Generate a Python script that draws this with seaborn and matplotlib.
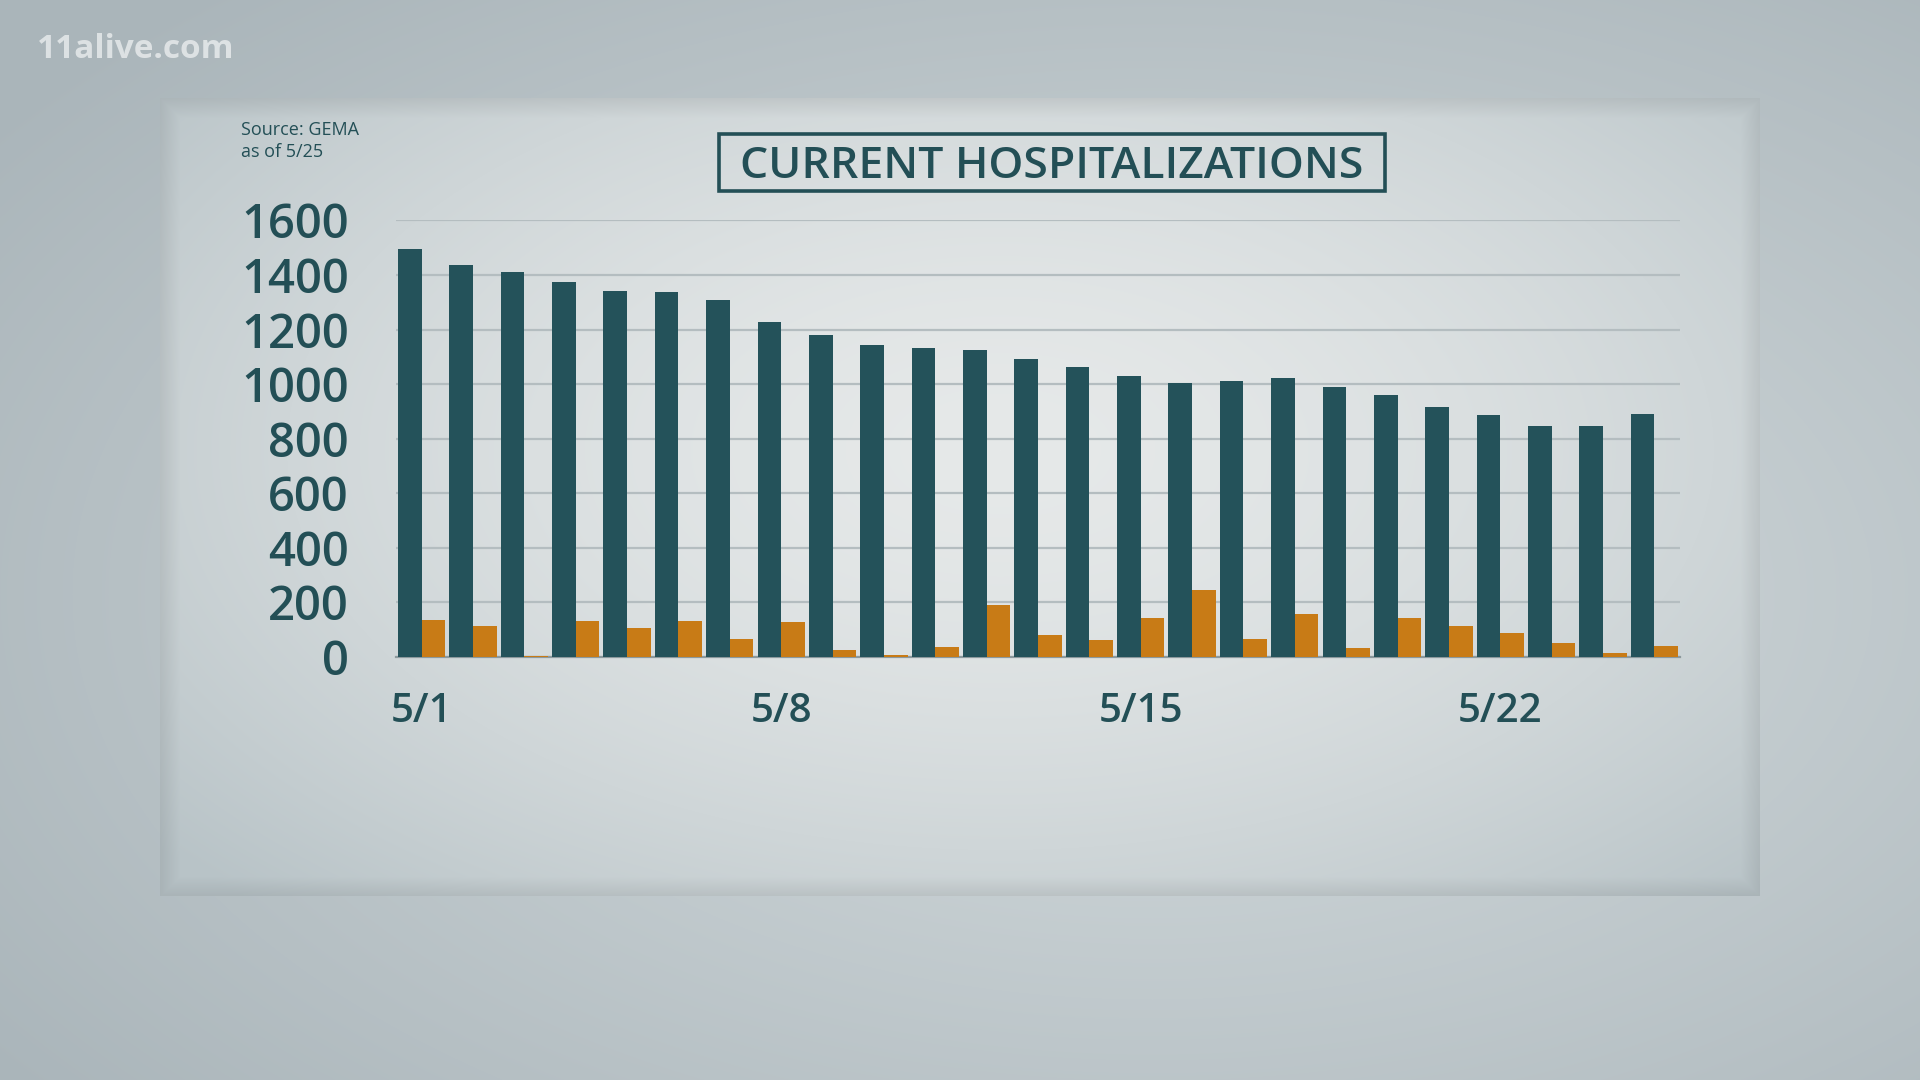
import numpy as np
import pandas as pd
import matplotlib
matplotlib.use("Agg")
import matplotlib.pyplot as plt
import seaborn as sns
from matplotlib.patches import Rectangle

# data (May 1 - May 25)
days = [f"5/{d}" for d in range(1, 26)]
hospitalized = [1497, 1438, 1411, 1376, 1341, 1337, 1309, 1228, 1179, 1144, 1132, 1125, 1091,
                1062, 1030, 1005, 1013, 1024, 988, 960, 918, 887, 847, 847, 891]
new_admits = [136, 114, 5, 131, 105, 131, 67, 128, 25, 6, 36, 191, 80, 64, 144, 246, 67, 156,
              33, 143, 115, 87, 52, 16, 41]
y_ticks = [0, 200, 400, 600, 800, 1000, 1200, 1400, 1600]
x_labels = ["5/1", "5/8", "5/15", "5/22"]

TEAL = "#24525a"
ORANGE = "#c87b16"
TEXT = "#234f56"

sns.set_theme(style="white")
plt.rcParams['font.family'] = ['Open Sans', 'DejaVu Sans']

W, H = 1920, 1080
fig = plt.figure(figsize=(W / 100, H / 100), dpi=100)

# background: outer studio wall + inset panel
yy, xx = np.mgrid[0:H, 0:W]
r = np.sqrt(((xx - W * 0.6) / W) ** 2 + ((yy - H * 0.55) / H) ** 2)
t = np.clip(r / 0.75, 0, 1)[..., None]
outer = np.array([214, 221, 223]) * (1 - t) + np.array([170, 181, 186]) * t
px0, px1, py0, py1 = 160, 1760, 98, 896
inside = (xx >= px0) & (xx < px1) & (yy >= py0) & (yy < py1)
rp = np.sqrt(((xx - 1000) / 1000.0) ** 2 + ((yy - 450) / 560.0) ** 2)
tp = np.clip(rp / 1.1, 0, 1)[..., None] ** 1.6
panel = np.array([230, 233, 233]) * (1 - tp) + np.array([184, 195, 199]) * tp
# inner shadow along the panel border
d = np.minimum.reduce([xx - px0, px1 - xx, yy - py0, py1 - yy]).astype(float)
shade = np.clip(1 - d / 20.0, 0, 1)[..., None] * 0.08
panel = panel * (1 - shade)
img = np.where(inside[..., None], panel, outer) / 255.0

bg = fig.add_axes([0, 0, 1, 1], zorder=-5)
bg.imshow(img, aspect="auto", extent=[0, 1, 0, 1], origin="upper")
bg.set_axis_off()

df = pd.DataFrame({
    "day": days * 2,
    "value": hospitalized + new_admits,
    "series": ["Hospitalized"] * len(days) + ["New"] * len(days),
})

ax = fig.add_axes([396 / W, 1 - 657 / H, (1680 - 396) / W, (657 - 220.5) / H])
ax.patch.set_alpha(0)
sns.barplot(data=df, x="day", y="value", hue="series", order=days,
            palette=[TEAL, ORANGE], width=0.92, saturation=1, legend=False,
            edgecolor="none", ax=ax, zorder=3)

ax.set_xlim(-0.5, len(days) - 0.5)
ax.set_ylim(0, 1600)
ax.set_yticks(y_ticks)
ax.set_yticklabels([str(v) for v in y_ticks], fontsize=34, color=TEXT, fontweight="semibold")
ax.yaxis.grid(True, color="#b4bdc0", linewidth=1.6, zorder=0)
ax.set_axisbelow(True)
ax.tick_params(axis="y", length=0, pad=34)

pos = [days.index(l) for l in x_labels]
ax.set_xticks(pos)
ax.set_xticklabels(x_labels, fontsize=29, color=TEXT, fontweight="semibold")
ax.set_xticks([p - 0.5 for p in pos], minor=True)
ax.tick_params(axis="x", which="major", length=0, pad=25)
ax.tick_params(axis="x", which="minor", length=9, width=1.2, color="#5d6f74", direction="out")
ax.set_xlabel("")
ax.set_ylabel("")

for s in ["top", "right", "left"]:
    ax.spines[s].set_visible(False)
ax.spines["bottom"].set_color("#8c999d")
ax.spines["bottom"].set_linewidth(1.6)

# title box
fig.patches.append(Rectangle((719 / W, 1 - 191 / H), (1385 - 719) / W, 57.5 / H,
                             transform=fig.transFigure, fill=False,
                             edgecolor=TEXT, linewidth=2.6))
fig.text(1052 / W, 1 - 166 / H, "CURRENT HOSPITALIZATIONS", ha="center", va="center",
         fontsize=32, color=TEXT, fontweight="semibold")

fig.text(241 / W, 1 - 130 / H, "Source: GEMA", ha="left", va="center", fontsize=13, color=TEXT)
fig.text(241 / W, 1 - 152 / H, "as of 5/25", ha="left", va="center", fontsize=13, color=TEXT)

fig.text(37 / W, 1 - 50 / H, "11alive.com", ha="left", va="center", fontsize=24,
         color="white", alpha=0.6, fontweight="bold")

fig.savefig("out.png", dpi=100)
